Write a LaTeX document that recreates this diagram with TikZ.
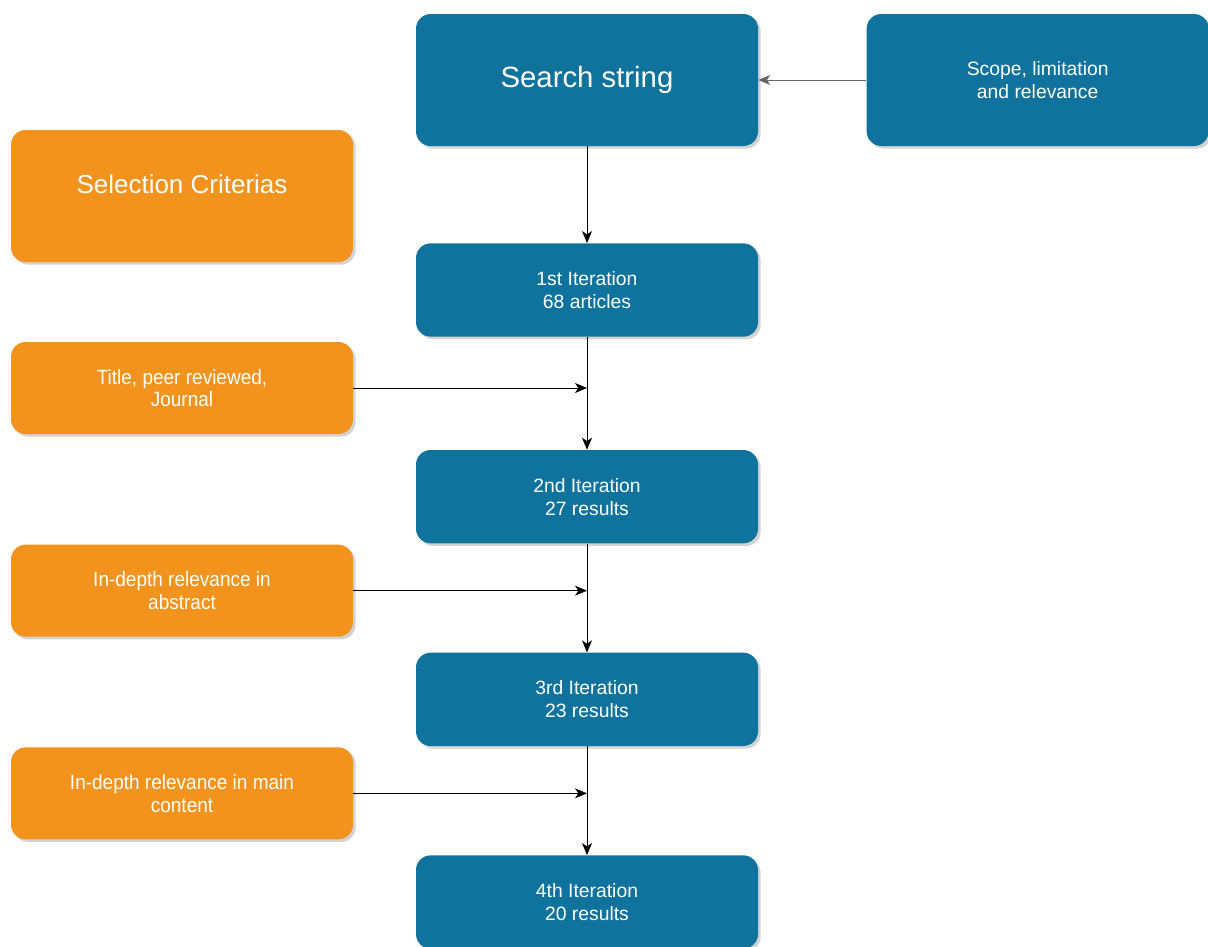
\documentclass[tikz,border=0pt]{standalone}
\usepackage{fontspec}
\setmainfont{Liberation Sans}
\newfontfamily\narrowfont[FakeStretch=0.92]{Liberation Sans}
\usetikzlibrary{positioning, shadows, arrows.meta}
\definecolor{blue1}{RGB}{16,115,158}
\definecolor{orange1}{RGB}{242,147,30}
\tikzstyle{box} = [rectangle, rounded corners=11pt, text=white, align=center, minimum width=256.5pt,
  drop shadow={shadow xshift=2pt, shadow yshift=-2pt, opacity=0.35, fill=black!50}]
\tikzstyle{bluebox} = [box, fill=blue1, font=\fontsize{14.5}{17.25}\selectfont]
\tikzstyle{orangebox} = [box, fill=orange1, font=\narrowfont\fontsize{15.5}{17}\selectfont]
\tikzstyle{link} = [line width=0.75pt, -{Stealth[length=9pt, width=7.5pt, inset=2.5pt]}]

\begin{document}
\begin{tikzpicture}[x=0.75pt, y=-0.75pt, node distance=155pt]
	\useasboundingbox (0,0) rectangle (1208,947);
	% Search and iterations
	\node [bluebox, minimum height=99pt, font=\fontsize{22}{26}\selectfont] (search) at (587,80) {Search string};
	\node [bluebox, minimum height=99pt, right of=search, node distance=338pt] (scope) {Scope, limitation\\and relevance};
	\node [bluebox, minimum height=70pt, below of=search, node distance=157.5pt] (iter1) {1st Iteration\\68 articles};
	\node [bluebox, minimum height=70pt, below of=iter1] (iter2) {2nd Iteration\\27 results};
	\node [bluebox, minimum height=70pt, below of=iter2, node distance=152pt] (iter3) {3rd Iteration\\23 results};
	\node [bluebox, minimum height=70pt, below of=iter3, node distance=152pt] (iter4) {4th Iteration\\20 results};

	% Criteria
	\node [orangebox, minimum height=99pt, text depth=18pt, font=\fontsize{19.5}{23}\selectfont] (criteria) at (182,196) {Selection Criterias};
	\node [orangebox, minimum height=69pt, below of=criteria, node distance=144pt] (title) {Title, peer reviewed,\\Journal};
	\node [orangebox, minimum height=69pt, below of=title, node distance=152pt] (abstract) {In-depth relevance in\\abstract};
	\node [orangebox, minimum height=69pt, below of=abstract, node distance=152pt] (content) {In-depth relevance in main\\content};

	\draw [link, gray!80!black] (scope.west) to (search.east);
	\draw [link] (search.south) to (iter1.north);
	\draw [link] (iter1.south) to (iter2.north);
	\draw [link] (iter2.south) to (iter3.north);
	\draw [link] (iter3.south) to (iter4.north);
	\draw [link] (title.east) to (title.east -| iter1.south);
	\draw [link] (abstract.east) to (abstract.east -| iter2.south);
	\draw [link] (content.east) to (content.east -| iter3.south);
\end{tikzpicture}
\end{document}
